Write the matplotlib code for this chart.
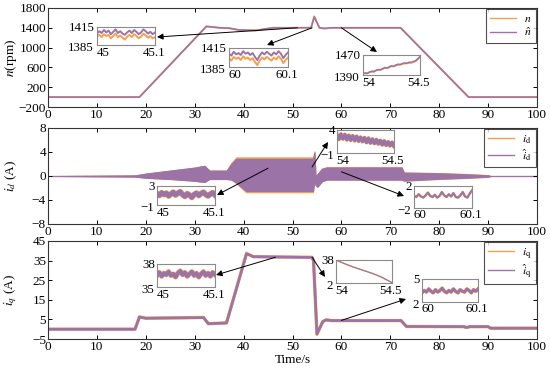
import numpy as np
import matplotlib
matplotlib.use("Agg")
import matplotlib.pyplot as plt

plt.rcParams['font.family'] = ['Liberation Serif', 'DejaVu Serif']
plt.rcParams['mathtext.fontset'] = 'stix'
plt.rcParams['font.size'] = 9.5

W, H = 550, 370
ORANGE = '#f5a04e'
PURPLE = '#9b73a6'

# ---- main curves ----
t_n = [0, 18.7, 32.4, 35, 37.2, 39, 42.5, 46, 53.8, 54.45, 55.5, 56.5, 58, 72.1, 86, 100]
n_meas = [0, 0, 1430, 1400, 1390, 1355, 1345, 1400, 1400, 1630, 1400, 1385, 1400, 1400, 0, 0]
n_est = [0, 0, 1428, 1402, 1390, 1357, 1347, 1400, 1402, 1620, 1402, 1387, 1400, 1400, 0, 0]

t_d = [0, 17.8, 20, 25, 30, 32, 33, 36.5, 37.5, 38.5, 40.5, 54.2, 54.5, 54.7, 55.1, 56, 57, 72.3, 72.8, 80, 85, 90, 90.5, 100]
id_up_meas = [0, 0.1, 0.4, 0.9, 1.4, 1.7, 0.9, 0.9, 2.2, 3.1, 3.1, 3.1, 4.1, 0.0, 0.3, 1.2, 1.5, 1.5, 0.6, 0.5, 0.35, 0.15, 0, 0]
id_lo_meas = [0, -0.1, -0.3, -0.5, -0.8, -1.0, -0.5, -0.5, -0.6, -1.2, -2.7, -2.7, -0.5, -1.5, -1.8, -0.9, -0.6, -0.6, -0.8, -0.5, -0.35, -0.15, 0, 0]
id_up_est = [0, 0.1, 0.4, 0.9, 1.4, 1.7, 0.9, 0.9, 2.0, 2.85, 2.85, 2.85, 3.9, 0.0, 0.3, 1.2, 1.4, 1.4, 0.55, 0.45, 0.3, 0.12, 0, 0]
id_lo_est = [0, -0.1, -0.3, -0.5, -0.8, -1.0, -0.5, -0.5, -0.6, -1.1, -2.5, -2.5, -0.5, -1.5, -1.8, -0.9, -0.6, -0.6, -0.75, -0.45, -0.3, -0.12, 0, 0]

t_q = [0, 17.8, 18.7, 20, 31.8, 32.8, 36.5, 40.6, 42, 54, 54.3, 55, 56.2, 56.9, 58, 72.2, 73.3, 85, 85.6, 86.3, 90, 90.5, 100]
iq_meas = [0, 0, 6.3, 5.6, 6.0, 2.8, 3.2, 38.7, 37, 36.7, 35, -2.6, 3.9, 4.8, 4.4, 4.4, 1.4, 1.3, 0.9, 1.3, 1.3, 0.5, 0.5]
iq_est = [0, 0, 6.2, 5.6, 5.9, 2.8, 3.2, 38.5, 37, 36.6, 35, -2.4, 3.9, 4.7, 4.4, 4.4, 1.4, 1.3, 0.9, 1.3, 1.3, 0.5, 0.5]

# ---- zoomed windows ----
n45_est = [1404, 1408, 1405, 1410, 1406, 1409, 1403, 1407, 1411, 1405, 1408, 1404, 1402, 1406, 1409, 1405, 1410, 1407, 1403, 1406, 1411, 1408, 1404, 1407, 1403, 1406]
n45_meas = [1399, 1402, 1398, 1403, 1400, 1402, 1396, 1400, 1404, 1398, 1401, 1397, 1394, 1399, 1402, 1398, 1403, 1400, 1396, 1399, 1404, 1401, 1397, 1400, 1396, 1398]
n60_est = [1406, 1403, 1409, 1405, 1407, 1404, 1410, 1406, 1408, 1404, 1407, 1401, 1396, 1403, 1408, 1405, 1409, 1406, 1403, 1408, 1405, 1410, 1406, 1399, 1404, 1408]
n60_meas = [1399, 1395, 1401, 1398, 1400, 1396, 1402, 1398, 1400, 1396, 1399, 1393, 1388, 1395, 1400, 1397, 1401, 1398, 1395, 1400, 1397, 1402, 1398, 1391, 1396, 1400]
n54_est = [1396, 1398, 1397, 1402, 1405, 1404, 1409, 1412, 1411, 1416, 1420, 1418, 1423, 1427, 1425, 1430, 1433, 1432, 1436, 1438, 1437, 1441, 1440, 1444, 1447, 1455, 1464]
n54_meas = [1394, 1397, 1396, 1401, 1403, 1403, 1408, 1410, 1410, 1414, 1418, 1417, 1421, 1425, 1424, 1428, 1431, 1431, 1434, 1436, 1436, 1439, 1439, 1442, 1445, 1453, 1462]

id45 = [1.4, 1.0, 1.6, 1.2, 1.5, 0.9, 1.3, 1.7, 1.1, 1.5, 1.8, 1.2, 0.8, 1.4, 1.1, 0.6, 1.2, 1.5, 1.0, 1.4, 1.7, 1.2, 0.9, 1.3, 1.6, 1.1]
id54 = [2.9, 2.0, 3.1, 2.1, 3.0, 1.9, 2.8, 1.8, 2.7, 1.7, 2.6, 1.6, 2.4, 1.5, 2.3, 1.3, 2.2, 1.2, 2.0, 1.1, 1.9, 1.0, 1.7, 0.8, 1.6, 0.7, 1.4, 0.6, 1.3, 0.5]
id60 = [0.2, 0.0, 0.5, 0.1, -0.1, 0.3, 0.8, 0.2, 0.0, 0.4, -0.1, 0.2, 0.9, 0.3, 0.0, 0.5, 0.1, 0.7, 0.0, -0.1, 0.3, 0.9, 0.1, -0.1, 0.6, 1.2]
iq45 = [36.5, 36.9, 36.4, 36.8, 36.6, 37.0, 36.5, 36.7, 36.3, 36.8, 37.1, 36.6, 36.9, 36.4, 36.7, 37.0, 36.5, 36.8, 36.3, 36.7, 37.0, 36.5, 36.8, 36.4, 36.9, 36.6]
iq54 = [38, 34.2, 30.6, 27.3, 24.3, 21.4, 18.5, 15.3, 11.7, 7.2, 2.5]
iq60 = [3.2, 3.5, 3.3, 3.7, 3.4, 3.2, 3.6, 3.3, 3.5, 3.8, 3.4, 3.2, 3.5, 3.3, 3.7, 3.4, 3.2, 3.6, 3.4, 3.3, 3.7, 3.5, 3.2, 3.6, 3.4, 3.7]


def frac(x, y):
    return x / W, 1 - y / H


def rect(x0, y0, x1, y1):
    return [x0 / W, 1 - y1 / H, (x1 - x0) / W, (y1 - y0) / H]


def style(ax, yticks, ylim):
    ax.set_xlim(0, 100)
    ax.set_xticks(range(0, 101, 10))
    ax.set_ylim(*ylim)
    ax.set_yticks(yticks)
    ax.tick_params(direction='in', top=True, right=True, length=3, width=0.7, pad=1.5)
    for s in ax.spines.values():
        s.set_color('#333333')
        s.set_linewidth(0.8)
    ax.yaxis.set_label_coords(-0.06, 0.5)


def inset(box, xlim, ylim, series, lbl):
    x0, y0, x1, y1 = box
    a = fig.add_axes(rect(*box))
    for vals, c, lw in series:
        a.plot(np.linspace(xlim[0], xlim[1], len(vals)), vals, color=c, lw=lw)
    a.set_xlim(*xlim)
    a.set_ylim(*ylim)
    a.set_xticks([])
    a.set_yticks([])
    for s in a.spines.values():
        s.set_color('#8a8a8a')
        s.set_linewidth(0.8)
    fs = 9.3
    fig.text(*frac(x0 - 2, y0 + 1), lbl[0], ha='right', va='center', fontsize=fs)
    fig.text(*frac(x0 - 3, y1 + 3), lbl[1], ha='right', va='center', fontsize=fs)
    fig.text(*frac(x0 + 6, y1 + 1.5), lbl[2], ha='center', va='top', fontsize=fs)
    fig.text(*frac(x1 - 1, y1 + 1.5), lbl[3], ha='center', va='top', fontsize=fs)


def arrow(ax, start, end_px):
    ax.annotate('', xy=frac(*end_px), xycoords='figure fraction',
                xytext=start, textcoords='data',
                arrowprops=dict(arrowstyle='-|>', color='black', lw=0.7,
                                mutation_scale=9, shrinkA=0, shrinkB=0))


fig = plt.figure(figsize=(W / 100, H / 100), dpi=100)
ax1 = fig.add_axes(rect(48, 8, 537, 107))
ax2 = fig.add_axes(rect(48, 128, 537, 224))
ax3 = fig.add_axes(rect(48, 241, 537, 339))

# speed
ax1.plot(t_n, n_meas, color=ORANGE, lw=1.4, label='$n$')
ax1.plot(t_n, n_est, color=PURPLE, lw=1.1, label=r'$\hat{n}$')
style(ax1, range(-200, 1801, 400), (-200, 1800))
ax1.set_ylabel('$n$(rpm)')

# d-axis current
ax2.fill_between(t_d, id_lo_meas, id_up_meas, color=ORANGE, lw=0.8)
ax2.fill_between(t_d, id_lo_est, id_up_est, color=PURPLE, lw=0.8)
ax2.plot([], [], color=ORANGE, label=r'$i_\mathrm{d}$')
ax2.plot([], [], color=PURPLE, label=r'$\hat{i}_\mathrm{d}$')
style(ax2, [-8, -4, 0, 4, 8], (-8, 8))
ax2.set_ylabel('$i_d$ (A)')

# q-axis current
ax3.plot(t_q, iq_meas, color=ORANGE, lw=2.4, label=r'$i_\mathrm{q}$')
ax3.plot(t_q, iq_est, color=PURPLE, lw=1.9, label=r'$\hat{i}_\mathrm{q}$')
style(ax3, [-5, 5, 15, 25, 35, 45], (-5, 45))
ax3.set_ylabel('$i_q$ (A)')
ax3.set_xlabel('Time/s', labelpad=1)

for ax in (ax1, ax2, ax3):
    leg = ax.legend(loc='upper right', fontsize=8.5, handlelength=2.2,
                    fancybox=False, edgecolor='#222222', borderaxespad=0.1,
                    labelspacing=0.1, borderpad=0.35, handletextpad=0.7)
    leg.get_frame().set_linewidth(0.8)
    for ln in leg.get_lines():
        ln.set_linewidth(1.0)

# insets: speed
inset((97, 27, 155, 45), (45, 45.1), (1385, 1415),
      [(n45_meas, ORANGE, 1.4), (n45_est, PURPLE, 1.4)], ['1415', '1385', '45', '45.1'])
inset((229, 48, 288, 67), (60, 60.1), (1385, 1415),
      [(n60_meas, ORANGE, 1.4), (n60_est, PURPLE, 1.4)], ['1415', '1385', '60', '60.1'])
inset((363, 55, 420, 75), (54, 54.5), (1390, 1470),
      [(n54_meas, ORANGE, 1.3), (n54_est, PURPLE, 1.1)], ['1470', '1390', '54', '54.5'])
arrow(ax1, (51, 1400), (157, 37))
arrow(ax1, (54, 1400), (267, 45))
arrow(ax1, (60, 1400), (377, 52))

# insets: d current
inset((157, 186, 215, 205), (45, 45.1), (-1, 3),
      [(id45, ORANGE, 4.2), (id45, PURPLE, 3.4)], ['3', '−1', '45', '45.1'])
inset((337, 130, 394, 153), (54, 54.5), (-1, 4),
      [(id54, ORANGE, 3.0), (id54, PURPLE, 2.4)], ['4', '−1', '54', '54.5'])
inset((414, 186, 472, 208), (60, 60.1), (-2, 2),
      [(id60, ORANGE, 1.8), (id60, PURPLE, 1.4)], ['2', '−2', '60', '60.1'])
arrow(ax2, (45, 1.3), (217, 195))
arrow(ax2, (54, 1.5), (328, 142))
arrow(ax2, (60, 0.7), (404, 196))

# insets: q current
inset((157, 264, 215, 287), (45, 45.1), (35, 38),
      [(iq45, ORANGE, 3.6), (iq45, PURPLE, 2.8)], ['38', '35', '45', '45.1'])
inset((336, 260, 392, 283), (54, 54.5), (2, 38),
      [(iq54, ORANGE, 1.0), (iq54, PURPLE, 0.8)], ['38', '2', '54', '54.5'])
inset((422, 279, 478, 302), (60, 60.1), (2, 5),
      [(iq60, ORANGE, 2.6), (iq60, PURPLE, 2.0)], ['5', '2', '60', '60.1'])
arrow(ax3, (46.5, 36.7), (216, 275))
arrow(ax3, (54, 36.7), (325, 277))
arrow(ax3, (60, 4.5), (406, 299))

fig.savefig('out.png', dpi=100)
